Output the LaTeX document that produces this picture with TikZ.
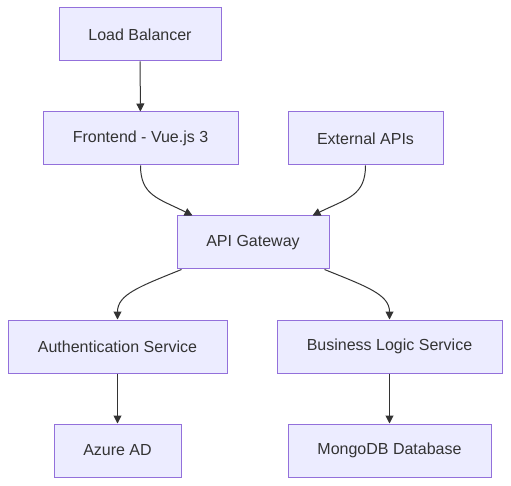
\documentclass[tikz,border=0pt]{standalone}
\usepackage{fontspec}
\setmainfont{Liberation Sans}
\usetikzlibrary{arrows.meta,calc}
\definecolor{boxfill}{HTML}{ECECFF}
\definecolor{boxline}{HTML}{9370DB}
\definecolor{edge}{HTML}{333333}
\definecolor{txt}{HTML}{333333}
\begin{document}
\begin{tikzpicture}[x=1pt,y=-1pt,
  box/.style={draw=boxline,fill=boxfill,line width=1pt,minimum height=53pt,inner sep=0pt,font=\fontsize{16}{19}\selectfont,text=txt},
  conn/.style={draw=edge,line width=1pt,-{Triangle[length=8pt,width=8pt]}}]
\useasboundingbox[fill=white] (0,0) rectangle (511,486);
\node[box,minimum width=162pt] (lb) at (140,34.5) {Load Balancer};
\node[box,minimum width=195pt] (fe) at (140.5,138.5) {Frontend - Vue.js 3};
\node[box,minimum width=155pt] (ext) at (365.5,138.5) {External APIs};
\node[box,minimum width=152pt] (gw) at (253,242.5) {API Gateway};
\node[box,minimum width=219pt] (auth) at (117.5,346.5) {Authentication Service};
\node[box,minimum width=225pt] (bl) at (389.5,346.5) {Business Logic Service};
\node[box,minimum width=127pt] (az) at (117.5,450.5) {Azure AD};
\node[box,minimum width=203pt] (mdb) at (389.5,450.5) {MongoDB Database};
\coordinate (gwinL) at ($(gw.north west)+(16,0)$);
\coordinate (gwinR) at ($(gw.north east)+(-17,0)$);
\coordinate (gwoutL) at ($(gw.south west)+(5,0)$);
\coordinate (gwoutR) at ($(gw.south east)+(-5,0)$);
\draw[conn] (lb) -- (fe);
\draw[conn] (fe.south) .. controls ($(fe.south)+(0,30)$) and ($(fe.south)+(18,33)$) .. (gwinL);
\draw[conn] (ext.south) .. controls ($(ext.south)+(0,30)$) and ($(ext.south)+(-18,33)$) .. (gwinR);
\draw[conn] (gwoutL) .. controls ($(gwoutL)+(-42,17)$) and ($(auth.north)+(0,-25)$) .. (auth.north);
\draw[conn] (gwoutR) .. controls ($(gwoutR)+(42,17)$) and ($(bl.north)+(0,-25)$) .. (bl.north);
\draw[conn] (auth) -- (az);
\draw[conn] (bl) -- (mdb);
\end{tikzpicture}
\end{document}
